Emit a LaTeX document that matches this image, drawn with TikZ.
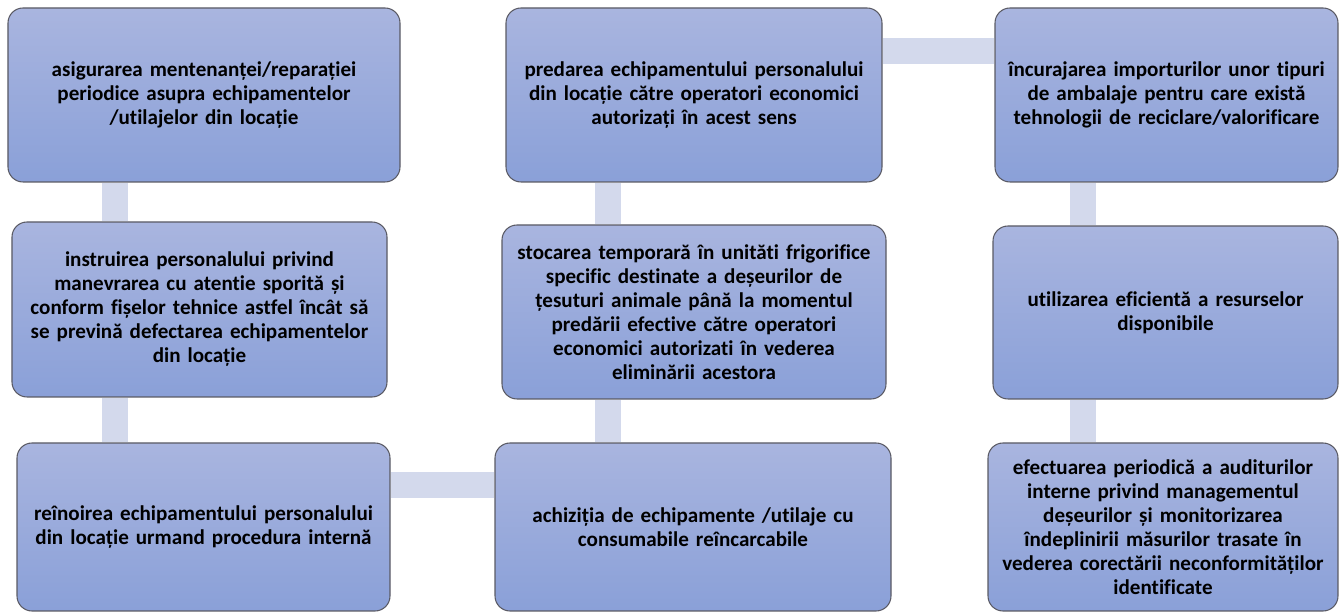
\documentclass[tikz,border=0pt]{standalone}
\usepackage{fontspec}
\setmainfont[Ligatures=NoCommon]{Carlito}
\usetikzlibrary{backgrounds}

\definecolor{sus}{RGB}{169,181,223}
\definecolor{jos}{RGB}{138,160,216}
\definecolor{bara}{RGB}{211,217,236}
\definecolor{contur}{RGB}{90,90,100}

\begin{document}
\begin{tikzpicture}[
	caseta/.style={rectangle, rounded corners=0.3cm, draw=contur, line width=0.6pt,
		top color=sus, bottom color=jos, align=center, inner xsep=0.1cm, inner ysep=0pt,
		font=\bfseries\fontsize{12}{13.66}\selectfont},
	legatura/.style={draw=bara, line width=0.52cm}
]

\useasboundingbox (0,0) rectangle (26.78,12.24);

% Coloana stanga
\node[caseta, text width=7.64cm, minimum height=3.48cm] (mentenanta) at (4.08,10.34)
	{asigurarea mentenanței/reparației\\periodice asupra echipamentelor\\/utilajelor din locație};
\node[caseta, text width=7.30cm, minimum height=3.50cm] (instruire) at (3.99,6.05)
	{instruirea personalului privind\\manevrarea cu atentie sporită și\\conform fișelor tehnice astfel încât să\\se prevină defectarea echipamentelor\\din locație};
\node[caseta, text width=7.26cm, minimum height=3.36cm] (reinnoire) at (4.07,1.70)
	{reînoirea echipamentului personalului\\din locație urmand procedura internă};

% Coloana din mijloc
\node[caseta, text width=7.72cm, minimum height=3.36cm] (achizitie) at (13.86,1.70)
	{achiziția de echipamente /utilaje cu\\consumabile reîncarcabile};
\node[caseta, text width=7.48cm, minimum height=3.48cm] (stocare) at (13.88,6.00)
	{stocarea temporară în unităti frigorifice\\specific destinate  a deșeurilor de\\țesuturi animale până la momentul\\predării efective către operatori\\economici autorizati în vederea\\eliminării acestora};
\node[caseta, text width=7.32cm, minimum height=3.48cm] (predare) at (13.88,10.34)
	{predarea echipamentului personalului\\din locație către operatori economici\\autorizați în acest sens};

% Coloana dreapta
\node[caseta, text width=6.66cm, minimum height=3.48cm] (importuri) at (23.33,10.34)
	{încurajarea importurilor unor tipuri\\de ambalaje pentru care există\\tehnologii de reciclare/valorificare};
\node[caseta, text width=6.70cm, minimum height=3.46cm] (resurse) at (23.31,5.99)
	{utilizarea eficientă a resurselor\\disponibile};
\node[caseta, text width=6.80cm, minimum height=3.36cm] (audit) at (23.26,1.70)
	{efectuarea periodică a auditurilor\\interne privind managementul\\deșeurilor și monitorizarea\\îndeplinirii măsurilor trasate în\\vederea corectării neconformităților\\identificate};

% Legaturi
\coordinate (axa1) at (2.30,0);
\coordinate (axa2) at (12.16,0);
\coordinate (axa3) at (21.65,0);
\coordinate (rand1) at (0,11.22);
\coordinate (rand3) at (0,2.54);

\begin{scope}[on background layer]
	\draw[legatura] (mentenanta.south -| axa1) -- (instruire.north -| axa1);
	\draw[legatura] (instruire.south -| axa1) -- (reinnoire.north -| axa1);
	\draw[legatura] (reinnoire.east |- rand3) -- (achizitie.west |- rand3);
	\draw[legatura] (achizitie.north -| axa2) -- (stocare.south -| axa2);
	\draw[legatura] (stocare.north -| axa2) -- (predare.south -| axa2);
	\draw[legatura] (predare.east |- rand1) -- (importuri.west |- rand1);
	\draw[legatura] (importuri.south -| axa3) -- (resurse.north -| axa3);
	\draw[legatura] (resurse.south -| axa3) -- (audit.north -| axa3);
\end{scope}
\end{tikzpicture}
\end{document}
